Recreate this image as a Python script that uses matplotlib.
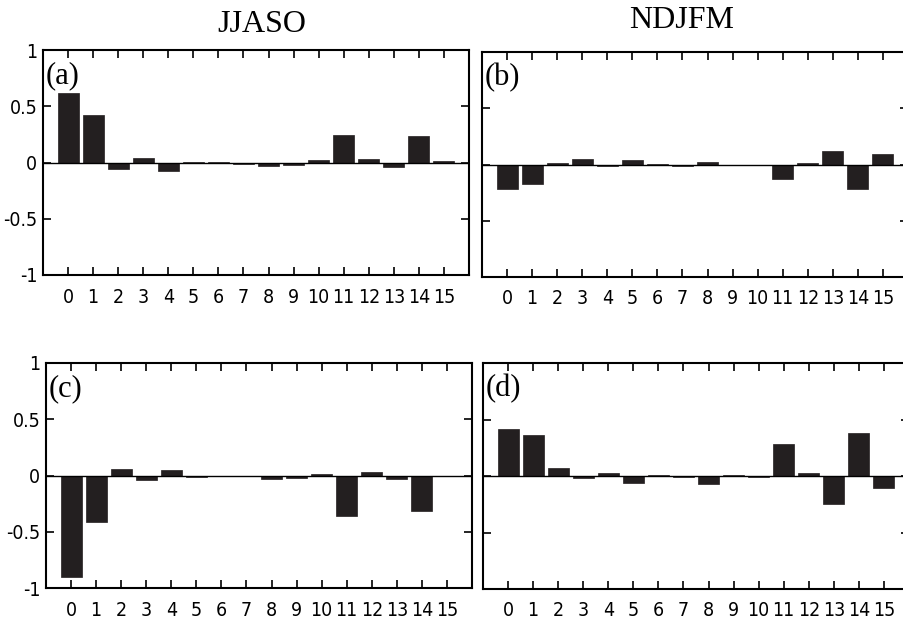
import matplotlib
matplotlib.use("Agg")
import matplotlib.pyplot as plt
import numpy as np

lags = list(range(16))
panel_a = [0.62, 0.42, -0.06, 0.04, -0.077, 0.005, 0.005, -0.01, -0.027, -0.018, 0.018, 0.245, 0.035, -0.041, 0.237, 0.012]
panel_b = [-0.22, -0.175, 0.01, 0.053, -0.015, 0.04, 0.005, -0.015, 0.02, -0.005, -0.003, -0.128, 0.013, 0.12, -0.217, 0.09]
panel_c = [-0.90, -0.415, 0.06, -0.038, 0.05, -0.015, -0.005, -0.005, -0.032, -0.02, 0.012, -0.357, 0.032, -0.03, -0.318, -0.005]
panel_d = [0.42, 0.36, 0.068, -0.018, 0.027, -0.062, 0.008, -0.005, -0.07, 0.01, -0.005, 0.28, 0.03, -0.248, 0.378, -0.103]
panel_labels = ["(a)", "(b)", "(c)", "(d)"]
col_titles = ["JJASO", "NDJFM"]
yticks = [-1, -0.5, 0, 0.5, 1]
ytick_labels = ["-1", "-0.5", "0", "0.5", "1"]

W, H = 904, 620
# axes boxes in pixels: left, top, right, bottom
boxes = [(43, 50, 469, 275), (482, 52, 908, 277),
         (46, 363, 472, 588), (483, 363, 909, 589)]

serif = ["Liberation Serif", "DejaVu Serif"]
barcol = "#231f20"
tickfont = dict(family="DejaVu Sans", stretch="condensed", fontsize=14)

fig = plt.figure(figsize=(W / 100, H / 100), dpi=100)
data = [panel_a, panel_b, panel_c, panel_d]

for i, (vals, box) in enumerate(zip(data, boxes)):
    l, t, r, b = box
    ax = fig.add_axes([l / W, 1 - b / H, (r - l) / W, (b - t) / H])
    ax.bar(lags, vals, width=0.84, color=barcol, edgecolor=barcol, linewidth=0.5)
    ax.axhline(0, color="black", lw=1.0)
    ax.set_xlim(-1, 16)
    ax.set_ylim(-1, 1)
    ax.set_xticks(lags)
    ax.set_xticklabels([str(x) for x in lags], **tickfont)
    ax.set_yticks(yticks)
    if i % 2 == 0:
        ax.set_yticklabels(ytick_labels, **tickfont)
    else:
        ax.set_yticklabels([])
    ax.tick_params(direction="in", length=6, width=1.2, top=True, right=True,
                   colors="black")
    ax.tick_params(axis="x", pad=9)
    ax.tick_params(axis="y", pad=4)
    for sp in ax.spines.values():
        sp.set_linewidth(1.5)
    ax.text(0.005, 0.95, panel_labels[i], transform=ax.transAxes, ha="left",
            va="top", family=serif, fontsize=22)

fig.text(262 / W, 1 - 24 / H, col_titles[0], ha="center", va="center",
         family=serif, fontsize=23)
fig.text(682 / W, 1 - 20 / H, col_titles[1], ha="center", va="center",
         family=serif, fontsize=23)

fig.savefig("out.png", dpi=100, facecolor="white")
